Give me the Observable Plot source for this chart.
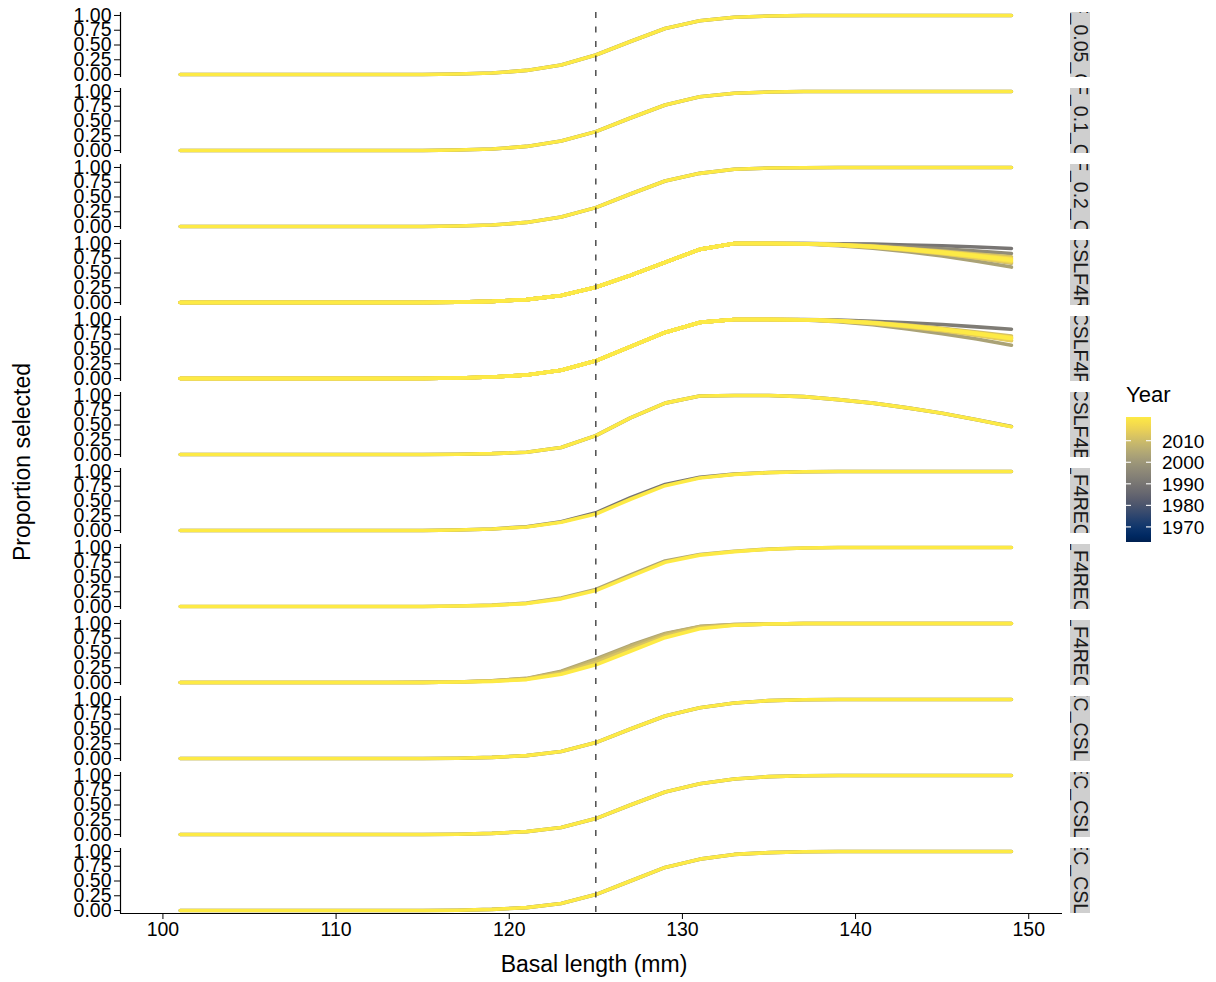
<!DOCTYPE html>
<html><head><meta charset="utf-8">
<script src="https://cdn.jsdelivr.net/npm/d3@7"></script>
<script src="https://cdn.jsdelivr.net/npm/@observablehq/plot@0.6"></script>
<style>body{margin:0;background:#fff;}</style>
</head><body><div id="chart"></div>
<script>
// ---- data ----
const lengths = [101,103,105,107,109,111,113,115,117,119,121,123,125,127,129,131,133,135,137,139,141,143,145,147,149];
const panelNames = ["SLF_0.05_CSL","SLF_0.1_CSL","SLF_0.2_CSL","_CSLF4R_","_CSLF4P_","_CSLF4B_","SL_F4REC_S","SL_F4REC_E","SL_F4REC_B","EC_CSLF","REC_CSLF4","REC_CSLF5"];
const xDomain = [97.55, 151.95];
const xTicks = [100,110,120,130,140,150];
const yDomain = [-0.05, 1.05];
const yTicks = [0,0.25,0.5,0.75,1];
const refLength = [125];
const yearExtent = [1963, 2021];
const legendTicks = [1970,1980,1990,2000,2010];

const curves_F005 = [
  [1990, [0,0,0,0,0,0,0,0.002,0.008,0.025,0.07,0.16,0.33,0.56,0.78,0.91,0.97,0.99,1,1,1,1,1,1,1]],
  [2021, [0,0,0,0,0,0,0,0.002,0.008,0.025,0.07,0.16,0.33,0.56,0.78,0.91,0.97,0.99,1,1,1,1,1,1,1]]
];
const curves_F01 = [
  [1990, [0,0,0,0,0,0,0,0.002,0.008,0.025,0.07,0.16,0.32,0.55,0.77,0.91,0.97,0.99,1,1,1,1,1,1,1]],
  [2021, [0,0,0,0,0,0,0,0.002,0.008,0.025,0.07,0.16,0.32,0.55,0.77,0.91,0.97,0.99,1,1,1,1,1,1,1]]
];
const curves_F02 = [
  [1990, [0,0,0,0,0,0,0,0.002,0.008,0.025,0.07,0.16,0.32,0.55,0.77,0.90,0.97,0.99,0.995,1,1,1,1,1,1]],
  [2021, [0,0,0,0,0,0,0,0.002,0.008,0.025,0.07,0.16,0.32,0.55,0.77,0.90,0.97,0.99,0.995,1,1,1,1,1,1]]
];
const curves_CSLF4R = [
  [1990, [0,0,0,0,0,0,0,0.002,0.007,0.02,0.05,0.12,0.26,0.46,0.68,0.90,1,1,1,0.995,0.99,0.975,0.96,0.94,0.915]],
  [1997, [0,0,0,0,0,0,0,0.002,0.007,0.02,0.05,0.12,0.26,0.46,0.68,0.90,1,1,1,0.99,0.97,0.94,0.91,0.87,0.83]],
  [2003, [0,0,0,0,0,0,0,0.002,0.007,0.02,0.05,0.12,0.26,0.46,0.68,0.90,1,1,0.99,0.96,0.92,0.86,0.79,0.70,0.60]],
  [2008, [0,0,0,0,0,0,0,0.002,0.007,0.02,0.05,0.12,0.26,0.46,0.68,0.90,1,1,0.995,0.975,0.94,0.89,0.83,0.755,0.665]],
  [2011, [0,0,0,0,0,0,0,0.002,0.007,0.02,0.05,0.12,0.26,0.46,0.68,0.90,1,1,0.995,0.98,0.955,0.915,0.87,0.82,0.775]],
  [2014, [0,0,0,0,0,0,0,0.002,0.007,0.02,0.05,0.12,0.26,0.46,0.68,0.90,1,1,0.995,0.97,0.935,0.885,0.825,0.755,0.68]],
  [2016, [0,0,0,0,0,0,0,0.002,0.007,0.02,0.05,0.12,0.26,0.46,0.68,0.90,1,1,0.995,0.98,0.95,0.91,0.86,0.805,0.75]],
  [2018, [0,0,0,0,0,0,0,0.002,0.007,0.02,0.05,0.12,0.26,0.46,0.68,0.90,1,1,0.995,0.975,0.94,0.895,0.84,0.775,0.70]],
  [2020, [0,0,0,0,0,0,0,0.002,0.007,0.02,0.05,0.12,0.26,0.46,0.68,0.90,1,1,0.995,0.978,0.948,0.905,0.855,0.795,0.73]],
  [2021, [0,0,0,0,0,0,0,0.002,0.007,0.02,0.05,0.12,0.26,0.46,0.68,0.90,1,1,0.995,0.975,0.943,0.898,0.845,0.785,0.715]]
];
const curves_CSLF4P = [
  [1992, [0,0,0,0,0,0,0,0.002,0.008,0.025,0.06,0.14,0.30,0.54,0.78,0.95,1,1,1,0.99,0.97,0.945,0.915,0.875,0.835]],
  [2003, [0,0,0,0,0,0,0,0.002,0.008,0.025,0.06,0.14,0.30,0.54,0.78,0.95,1,1,0.99,0.96,0.91,0.84,0.76,0.67,0.565]],
  [2008, [0,0,0,0,0,0,0,0.002,0.008,0.025,0.06,0.14,0.30,0.54,0.78,0.95,1,1,0.995,0.975,0.94,0.885,0.82,0.74,0.65]],
  [2011, [0,0,0,0,0,0,0,0.002,0.008,0.025,0.06,0.14,0.30,0.54,0.78,0.95,1,1,0.995,0.98,0.95,0.905,0.85,0.785,0.72]],
  [2014, [0,0,0,0,0,0,0,0.002,0.008,0.025,0.06,0.14,0.30,0.54,0.78,0.95,1,1,0.995,0.97,0.93,0.875,0.81,0.73,0.64]],
  [2016, [0,0,0,0,0,0,0,0.002,0.008,0.025,0.06,0.14,0.30,0.54,0.78,0.95,1,1,0.995,0.978,0.945,0.895,0.84,0.77,0.70]],
  [2018, [0,0,0,0,0,0,0,0.002,0.008,0.025,0.06,0.14,0.30,0.54,0.78,0.95,1,1,0.995,0.975,0.94,0.89,0.83,0.755,0.675]],
  [2020, [0,0,0,0,0,0,0,0.002,0.008,0.025,0.06,0.14,0.30,0.54,0.78,0.95,1,1,0.995,0.977,0.943,0.893,0.835,0.765,0.69]],
  [2021, [0,0,0,0,0,0,0,0.002,0.008,0.025,0.06,0.14,0.30,0.54,0.78,0.95,1,1,0.995,0.975,0.94,0.89,0.83,0.76,0.68]]
];
const curves_CSLF4B = [
  [1990, [0,0,0,0,0,0,0,0.002,0.006,0.015,0.04,0.12,0.32,0.62,0.87,0.99,1,1,0.98,0.93,0.87,0.79,0.70,0.59,0.475]],
  [2021, [0,0,0,0,0,0,0,0.002,0.006,0.015,0.04,0.12,0.32,0.62,0.87,0.99,1,1,0.98,0.93,0.87,0.79,0.70,0.59,0.47]]
];
const curves_F4REC_S = [
  [1990, [0,0,0,0,0,0,0,0.002,0.009,0.027,0.065,0.15,0.30,0.555,0.78,0.90,0.955,0.982,0.995,1,1,1,1,1,1]],
  [2021, [0,0,0,0,0,0,0,0.002,0.008,0.025,0.06,0.14,0.28,0.53,0.76,0.89,0.95,0.98,0.995,1,1,1,1,1,1]]
];
const curves_F4REC_E = [
  [2004, [0,0,0,0,0,0,0,0.002,0.009,0.024,0.058,0.145,0.29,0.535,0.77,0.88,0.935,0.972,0.99,1,1,1,1,1,1]],
  [2021, [0,0,0,0,0,0,0,0.002,0.008,0.02,0.05,0.13,0.27,0.51,0.75,0.87,0.93,0.97,0.99,1,1,1,1,1,1]]
];
const curves_F4REC_B = [
  [2004, [0,0,0,0,0,0,0,0.003,0.01,0.03,0.07,0.19,0.40,0.63,0.83,0.95,0.98,0.99,1,1,1,1,1,1,1]],
  [2008, [0,0,0,0,0,0,0,0.003,0.01,0.028,0.065,0.18,0.38,0.61,0.82,0.945,0.98,0.99,1,1,1,1,1,1,1]],
  [2012, [0,0,0,0,0,0,0,0.002,0.009,0.025,0.06,0.16,0.34,0.57,0.79,0.93,0.975,0.99,1,1,1,1,1,1,1]],
  [2021, [0,0,0,0,0,0,0,0.002,0.008,0.02,0.05,0.14,0.30,0.53,0.76,0.91,0.97,0.99,1,1,1,1,1,1,1]]
];
const curves_C_CSL1 = [
  [1990, [0,0,0,0,0,0,0,0.002,0.006,0.02,0.05,0.12,0.27,0.50,0.72,0.86,0.94,0.98,0.995,1,1,1,1,1,1]],
  [2021, [0,0,0,0,0,0,0,0.002,0.006,0.02,0.05,0.12,0.27,0.50,0.72,0.86,0.94,0.98,0.995,1,1,1,1,1,1]]
];
const curves_C_CSL2 = [
  [1990, [0,0,0,0,0,0,0,0.002,0.006,0.02,0.05,0.12,0.27,0.50,0.72,0.86,0.94,0.98,0.995,1,1,1,1,1,1]],
  [2021, [0,0,0,0,0,0,0,0.002,0.006,0.02,0.05,0.12,0.27,0.50,0.72,0.86,0.94,0.98,0.995,1,1,1,1,1,1]]
];
const curves_C_CSL3 = [
  [1990, [0,0,0,0,0,0,0,0.002,0.006,0.02,0.05,0.12,0.27,0.50,0.73,0.87,0.95,0.98,0.995,1,1,1,1,1,1]],
  [2021, [0,0,0,0,0,0,0,0.002,0.006,0.02,0.05,0.12,0.27,0.50,0.73,0.87,0.95,0.98,0.995,1,1,1,1,1,1]]
];

const panelCurves = [curves_F005, curves_F01, curves_F02, curves_CSLF4R, curves_CSLF4P, curves_CSLF4B,
  curves_F4REC_S, curves_F4REC_E, curves_F4REC_B, curves_C_CSL1, curves_C_CSL2, curves_C_CSL3];

const rows = [];
panelCurves.forEach((curves, i) => curves.forEach(([year, vals]) =>
  vals.forEach((p, j) => rows.push({panel: panelNames[i], year, length: lengths[j], p}))));

const FONT = "'Liberation Sans', Arial, Helvetica, sans-serif";

const plot = Plot.plot({
  width: 1216, height: 982,
  marginLeft: 120, marginRight: 154, marginTop: 12, marginBottom: 69,
  style: {fontFamily: FONT, fontSize: "19.5px", color: "#000", background: "#fff", overflow: "visible"},
  x: {domain: xDomain},
  y: {domain: yDomain},
  fy: {domain: panelNames, paddingInner: 11/76, paddingOuter: 0, round: false, axis: null, label: null},
  color: {type: "linear", scheme: "cividis", domain: yearExtent},
  marks: [
    Plot.line(rows, {x: "length", y: "p", fy: "panel", z: "year", stroke: "year", strokeWidth: 3.6}),
    Plot.ruleX(refLength, {stroke: "#333", strokeWidth: 1.3, strokeDasharray: "6,8.5"}),
    Plot.ruleX(xDomain.slice(0, 1), {stroke: "#000", strokeWidth: 1.2}),
    Plot.ruleY([{panel: panelNames[panelNames.length - 1], y: yDomain[0]}], {y: "y", fy: "panel", stroke: "#000", strokeWidth: 1.2}),
    Plot.axisY({ticks: yTicks, tickFormat: d3.format(".2f"), tickSize: 6, tickPadding: 3, label: null}),
    Plot.axisX({ticks: xTicks, tickSize: 6, tickPadding: 3, label: null})
  ]
});
document.getElementById("chart").appendChild(plot);

// ---- strips, titles, legend ----
const svg = d3.select(plot);
const fy = plot.scale("fy");
const bw = fy.bandwidth;
const defs = svg.append("defs");
const stripX = 1070, stripW = 20;
panelNames.forEach((name, i) => {
  const y0 = fy.apply(name);
  defs.append("clipPath").attr("id", "strip" + i)
    .append("rect").attr("x", stripX).attr("y", y0).attr("width", stripW).attr("height", bw);
  const g = svg.append("g").attr("clip-path", `url(#strip${i})`);
  g.append("rect").attr("x", stripX).attr("y", y0).attr("width", stripW).attr("height", bw).attr("fill", "#cfcfcf");
  const cy = y0 + bw / 2;
  g.append("text").attr("x", 0).attr("y", 0)
    .attr("transform", `translate(${stripX + 3.5},${cy}) rotate(90)`)
    .attr("text-anchor", "middle")
    .attr("font-family", FONT).attr("font-size", "19.5px").attr("fill", "#1a1a1a")
    .text(name);
});

svg.append("text").attr("x", 594).attr("y", 972).attr("text-anchor", "middle")
  .attr("font-family", FONT).attr("font-size", "23px").attr("fill", "#000").text("Basal length (mm)");
svg.append("text").attr("transform", "translate(30,462) rotate(-90)").attr("text-anchor", "middle")
  .attr("font-family", FONT).attr("font-size", "23px").attr("fill", "#000").text("Proportion selected");

// legend
const lg = svg.append("g").attr("text-anchor", "start");
const ly = d3.scaleLinear(yearExtent, [542, 417]);
const grad = defs.append("linearGradient").attr("id", "yeargrad").attr("x1", 0).attr("x2", 0).attr("y1", 1).attr("y2", 0);
d3.range(0, 1.0001, 0.05).forEach(t => grad.append("stop").attr("offset", t).attr("stop-color", d3.interpolateCividis(t)));
lg.append("text").attr("x", 1126).attr("y", 402).attr("text-anchor", "start").attr("font-family", FONT).attr("font-size", "22px").attr("fill", "#000").text("Year");
lg.append("rect").attr("x", 1126).attr("y", 417).attr("width", 25).attr("height", 125).attr("fill", "url(#yeargrad)");
legendTicks.forEach(yr => {
  const y = ly(yr);
  lg.append("line").attr("x1", 1126).attr("x2", 1131).attr("y1", y).attr("y2", y).attr("stroke", "#fff").attr("stroke-width", 1.1);
  lg.append("line").attr("x1", 1146).attr("x2", 1151).attr("y1", y).attr("y2", y).attr("stroke", "#fff").attr("stroke-width", 1.1);
  lg.append("text").attr("x", 1162).attr("y", y + 7).attr("text-anchor", "start")
    .attr("font-family", FONT).attr("font-size", "19px").attr("fill", "#000").text(yr);
});
</script></body></html>
